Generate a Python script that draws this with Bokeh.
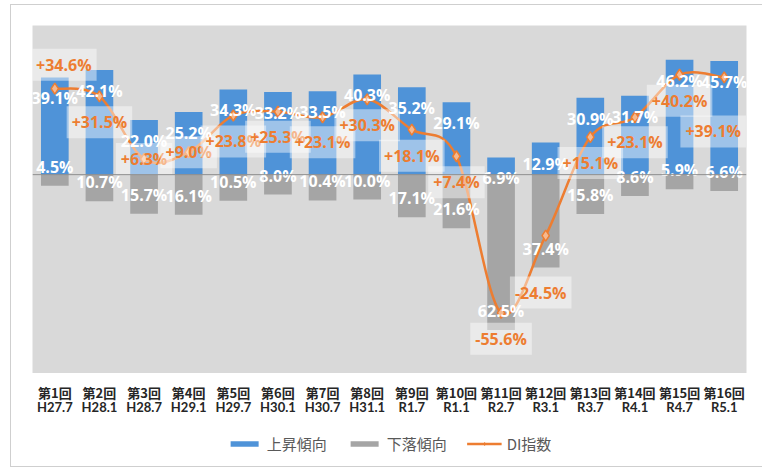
from bokeh.plotting import figure
from bokeh.layouts import column
from bokeh.models import (FactorRange, Range1d, ColumnDataSource, Span, Legend, LegendItem)
from bokeh.core.properties import value
from bokeh.embed import file_html
from bokeh.resources import INLINE

# ---- data ----
rounds = ["第1回", "第2回", "第3回", "第4回", "第5回", "第6回", "第7回", "第8回",
          "第9回", "第10回", "第11回", "第12回", "第13回", "第14回", "第15回", "第16回"]
periods = ["H27.7", "H28.1", "H28.7", "H29.1", "H29.7", "H30.1", "H30.7", "H31.1",
           "R1.7", "R1.1", "R2.7", "R3.1", "R3.7", "R4.1", "R4.7", "R5.1"]
rise = [39.1, 42.1, 22.0, 25.2, 34.3, 33.2, 33.5, 40.3, 35.2, 29.1, 6.9, 12.9, 30.9, 31.7, 46.2, 45.7]
fall = [4.5, 10.7, 15.7, 16.1, 10.5, 8.0, 10.4, 10.0, 17.1, 21.6, 62.5, 37.4, 15.8, 8.6, 5.9, 6.6]
di = [34.6, 31.5, 6.3, 9.0, 23.8, 25.3, 23.1, 30.3, 18.1, 7.4, -55.6, -24.5, 15.1, 23.1, 40.2, 39.1]

# label placement (screen px offsets, style only)
di_label_dx = [9, 0, 0, 0, 0, 0, 0, 0, 0, 0, 0, -5, 0, 0, 0, -11]
di_label_dy = [-24, 26, 0, 0, 26, 25, 25, 26, 26, 26, 26, 57, 26, 25, 26, 54]

BLUE = "#4f93d8"
GRAY = "#a5a5a5"
ORANGE = "#ed7d31"
PLOT_BG = "#d9d9d9"
EDGE = "#cfcfcf"
FONT = "Open Sans"
CJK = "Noto Sans CJK JP"

xr = FactorRange(*rounds)

p = figure(x_range=xr, y_range=Range1d(-80, 60),
           width=762, height=373, frame_width=714, frame_height=348,
           output_backend="svg", toolbar_location=None,
           background_fill_color=PLOT_BG, border_fill_alpha=0,
           outline_line_color=None, x_axis_location=None, y_axis_location=None,
           min_border_left=32, min_border_right=16, min_border_top=25, min_border_bottom=0)
p.xgrid.visible = False
p.ygrid.visible = False
p.styles = {"background": (f"linear-gradient({EDGE},{EDGE}) 10px 4px / 1px 369px no-repeat, "
                           f"linear-gradient({EDGE},{EDGE}) 10px 4px / 752px 1px no-repeat, white")}

src = ColumnDataSource(dict(
    x=rounds, rise=rise, fall=[-v for v in fall], di=di,
    rise_lbl=[f"{v:.1f}%" for v in rise],
    fall_lbl=[f"{v:.1f}%" for v in fall],
    di_lbl=[f"{v:+.1f}%" for v in di],
    di_dx=di_label_dx, di_dy=di_label_dy,
))

p.vbar(x="x", top="rise", bottom=0, width=0.62, source=src, fill_color=BLUE, line_color=None)
p.vbar(x="x", top=0, bottom="fall", width=0.62, source=src, fill_color=GRAY, line_color=None)

p.add_layout(Span(location=0, dimension="width", line_color="#8f8f8f", line_width=1))

# smoothed DI line (Catmull-Rom -> cubic Bezier through the data points)
n = len(di)
xs = [i + 0.5 for i in range(n)]
bz = dict(x0=[], y0=[], x1=[], y1=[], cx0=[], cy0=[], cx1=[], cy1=[])
for i in range(n - 1):
    a = max(i - 1, 0)
    d = min(i + 2, n - 1)
    bz["x0"].append(xs[i]); bz["y0"].append(di[i])
    bz["x1"].append(xs[i + 1]); bz["y1"].append(di[i + 1])
    bz["cx0"].append(xs[i] + (xs[i + 1] - xs[a]) / 6)
    bz["cy0"].append(di[i] + (di[i + 1] - di[a]) / 6)
    bz["cx1"].append(xs[i + 1] - (xs[d] - xs[i]) / 6)
    bz["cy1"].append(di[i + 1] - (di[d] - di[i]) / 6)
p.bezier(source=ColumnDataSource(bz), x0="x0", y0="y0", x1="x1", y1="y1",
         cx0="cx0", cy0="cy0", cx1="cx1", cy1="cy1",
         line_color=ORANGE, line_width=2.5)
p.scatter(x="x", y="di", source=src, marker="diamond", size=11,
          fill_color="#f6b98f", line_color=ORANGE, line_width=1.5)

# bar labels
p.text(x="x", y="rise", text="rise_lbl", source=src, y_offset=21,
       text_align="center", text_baseline="middle", text_color="white",
       text_font=value(FONT), text_font_style="bold", text_font_size="16px")
p.text(x="x", y="fall", text="fall_lbl", source=src, y_offset=-19,
       text_align="center", text_baseline="middle", text_color="white",
       text_font=value(FONT), text_font_style="bold", text_font_size="16px")
# DI labels
p.text(x="x", y="di", text="di_lbl", source=src, x_offset="di_dx", y_offset="di_dy",
       text_align="center", text_baseline="middle", text_color=ORANGE,
       text_font=value(FONT), text_font_style="bold", text_font_size="16px",
       background_fill_color="white", background_fill_alpha=0.45, padding=5)

# ---- bottom strip: category labels (two rows) + legend ----
q = figure(x_range=xr, y_range=Range1d(0, 95),
           width=762, height=95, frame_width=714, frame_height=95,
           output_backend="svg", toolbar_location=None,
           background_fill_alpha=0, border_fill_alpha=0,
           outline_line_color=None, x_axis_location=None, y_axis_location=None,
           min_border_left=32, min_border_right=16, min_border_top=0, min_border_bottom=0)
q.xgrid.visible = False
q.ygrid.visible = False
q.styles = {"background": (f"linear-gradient({EDGE},{EDGE}) 10px 0px / 1px 93px no-repeat, "
                           f"linear-gradient({EDGE},{EDGE}) 10px 93px / 752px 1px no-repeat, white")}
q.text(x=rounds, y=76.5, text=rounds, text_align="center", text_baseline="middle",
       text_color="#262626", text_font=value(CJK), text_font_style="bold",
       text_font_size="13px")
q.text(x=rounds, y=62, text=periods, text_align="center", text_baseline="middle",
       text_color="#262626", text_font=value("Lato"), text_font_style="bold",
       text_font_size="13px")

# legend proxies (same data, placed on a hidden range)
q.extra_y_ranges = {"hidden": Range1d(500, 501)}
lr = q.vbar(x=rounds, top=rise, width=0.62, fill_color=BLUE, line_color=None, y_range_name="hidden")
lf = q.vbar(x=rounds, top=fall, width=0.62, fill_color=GRAY, line_color=None, y_range_name="hidden")
ll = q.line(x=rounds, y=di, line_color=ORANGE, line_width=2.5, y_range_name="hidden")
lm = q.scatter(x=rounds, y=di, marker="diamond", size=8, fill_color=ORANGE,
               line_color=ORANGE, y_range_name="hidden")

legend = Legend(items=[LegendItem(label="上昇傾向", renderers=[lr]),
                       LegendItem(label="下落傾向", renderers=[lf]),
                       LegendItem(label="DI指数", renderers=[ll, lm])],
                orientation="horizontal", location="bottom_center",
                border_line_color=None, background_fill_alpha=0,
                label_text_font=CJK, label_text_font_size="15px",
                label_text_color="#595959", glyph_width=35, glyph_height=7,
                spacing=20, label_standoff=5, padding=0, margin=14)
q.add_layout(legend)

open("out.html", "w").write(file_html(column(p, q), INLINE))
